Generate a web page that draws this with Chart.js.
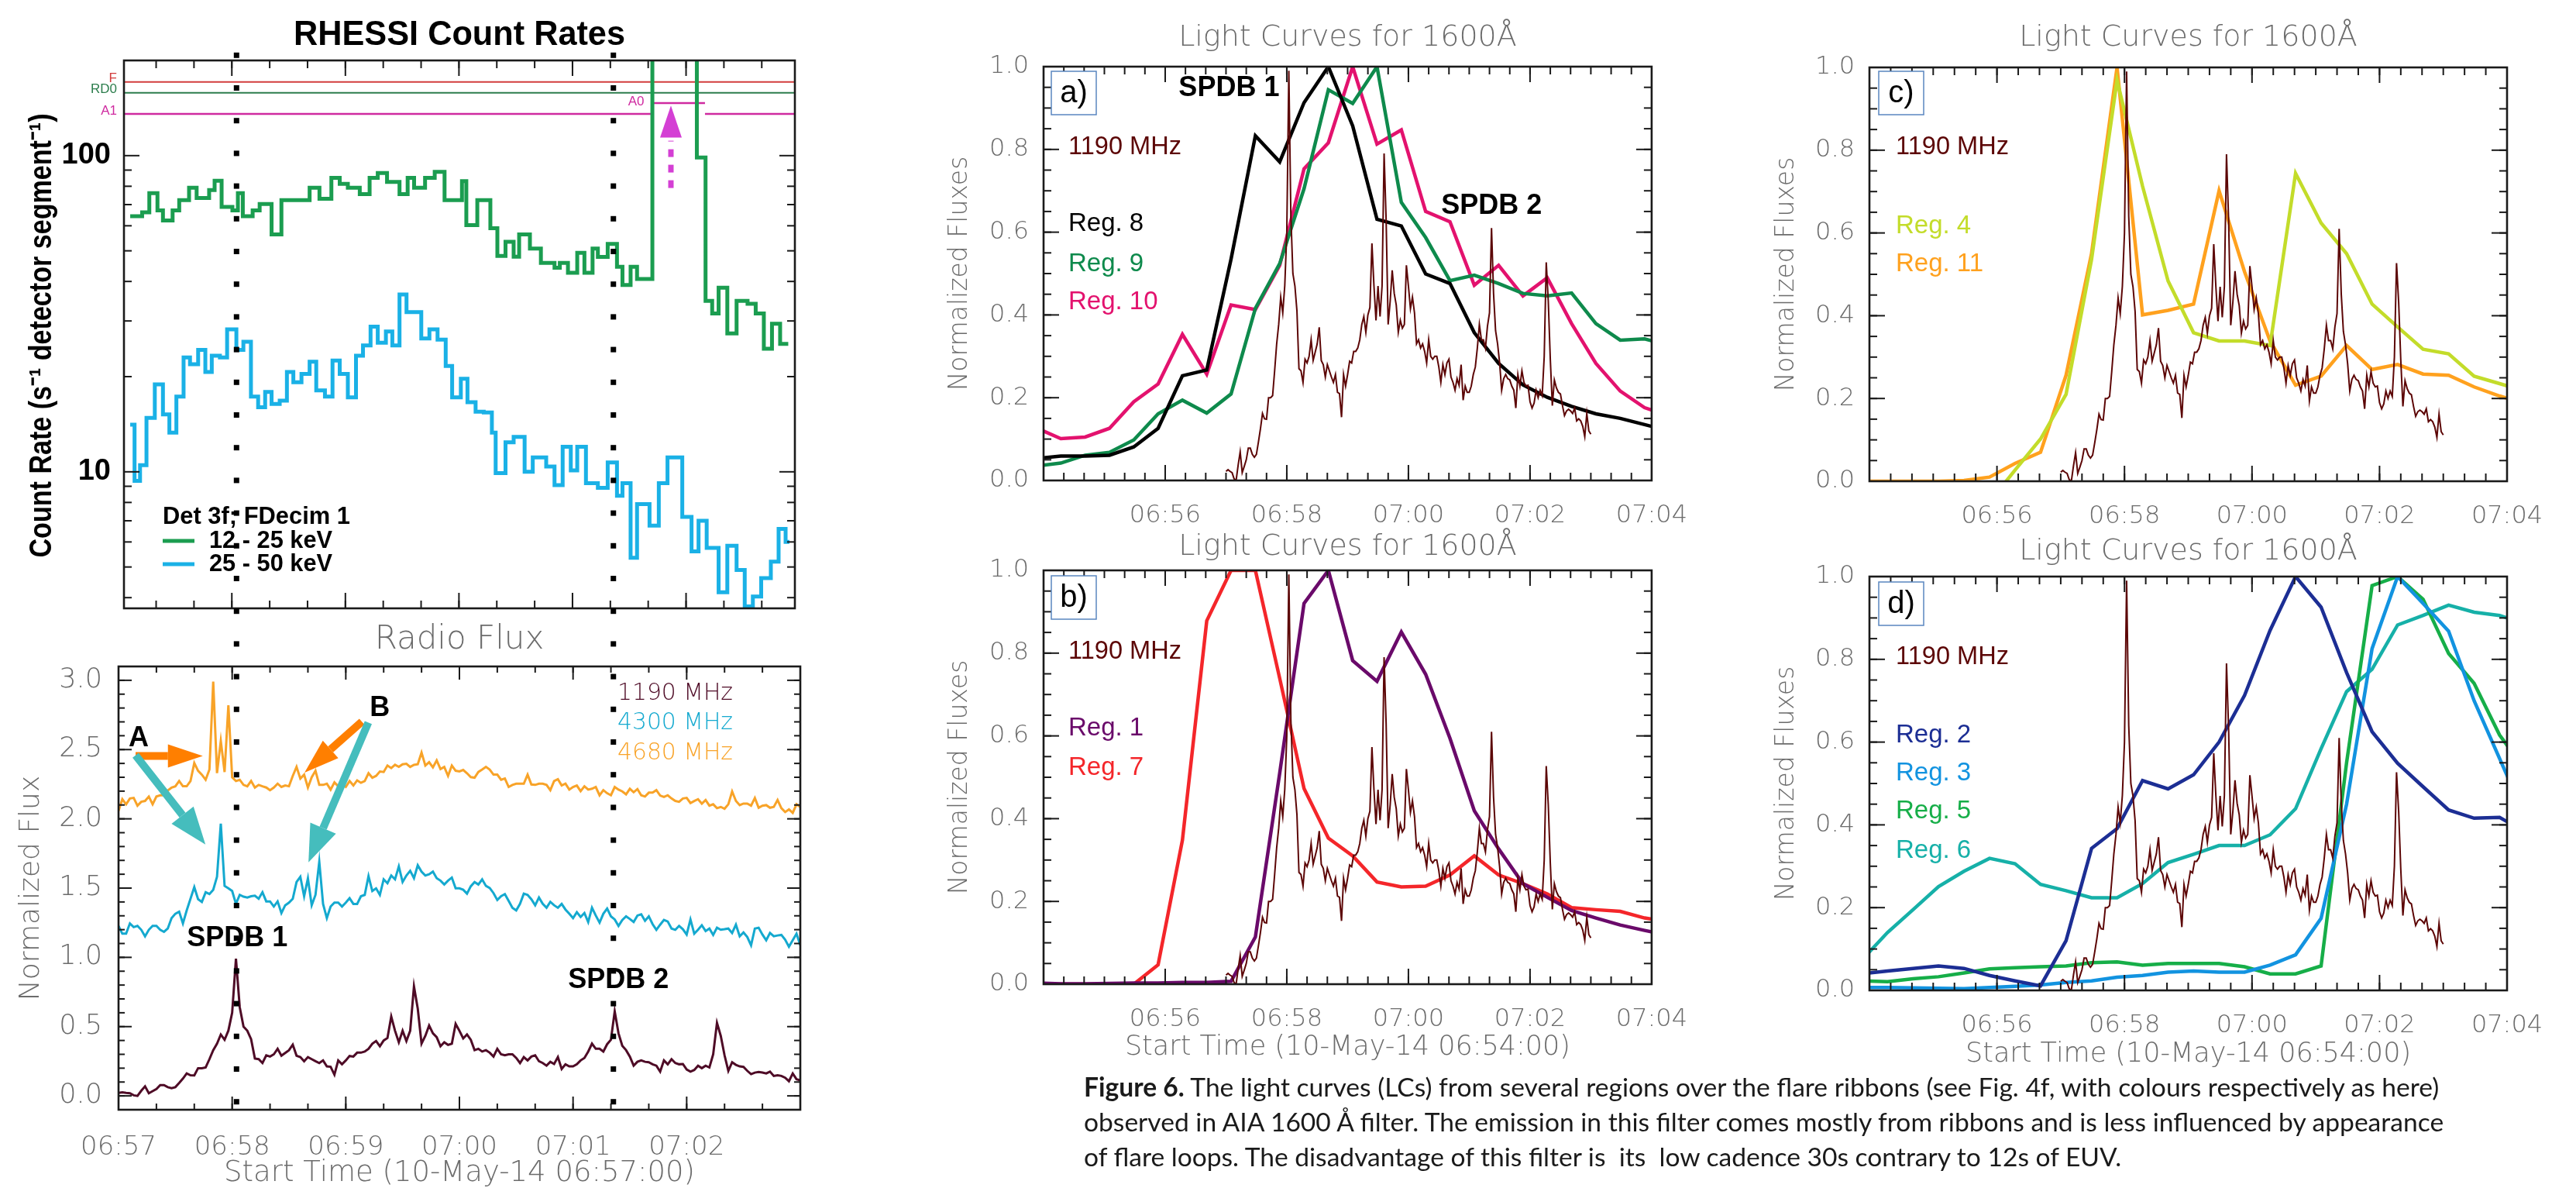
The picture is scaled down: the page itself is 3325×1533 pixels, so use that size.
<!DOCTYPE html>
<html>
<head>
<meta charset="utf-8">
<title>Flare light curves</title>
<script src="https://cdn.jsdelivr.net/npm/chart.js@4.4.1/dist/chart.umd.min.js"></script>
<style>
  html, body { margin: 0; padding: 0; background: #fff; }
  body { width: 3325px; height: 1533px; position: relative; overflow: hidden; }
  canvas { position: absolute; }
  #caption { position: absolute; left: 1399px; top: 1380px; font-family: Lato, sans-serif; font-size: 33.6px;
             line-height: 45px; color: #1a1a1a; white-space: nowrap; }
</style>
</head>
<body>
<canvas id="rhessi" style="left:0;top:0" width="1100" height="1533"></canvas>
<canvas id="radio" style="left:0;top:0" width="1100" height="1533"></canvas>
<canvas id="lcA" style="left:1190px;top:0" width="1010" height="690"></canvas>
<canvas id="lcC" style="left:2256px;top:0" width="1069" height="690"></canvas>
<canvas id="lcB" style="left:1190px;top:665px" width="1010" height="868"></canvas>
<canvas id="lcD" style="left:2256px;top:665px" width="1069" height="868"></canvas>
<div id="caption"><b>Figure 6.</b> The light curves (LCs) from several regions over the flare ribbons (see Fig. 4f, with colours respectively as here)<br>observed in AIA 1600 Å filter. The emission in this filter comes mostly from ribbons and is less influenced by appearance<br>of flare loops. The disadvantage of this filter is&nbsp; its&nbsp; low cadence 30s contrary to 12s of EUV.</div>
<script>
// ---------- RHESSI count rates (bin start, seconds after 06:57:00) ----------
const rhessiLoT = [6.3, 12.6, 16.4, 20.7, 23.6, 28.7, 32.2, 37.4, 41.4, 48.0, 50.9, 54.6, 60.3, 63.2, 65.8, 71.0, 74.7,
  81.0, 86.2, 101.1, 106.3, 112.6, 117.0, 121.3, 127.6, 132.8, 137.1, 142.0, 148.6, 152.9, 156.3, 162.1, 167.2, 172.4,
  181.6, 183.9, 189.7, 196.6, 200.3, 204.6, 208.9, 211.8, 217.5, 223.3, 230.5, 233.3, 237.6, 242.5, 246.3, 250.6, 253.4,
  258.6, 263.5, 266.4, 270.7, 274.1, 282.2, 305.7, 310.3, 313.8, 317.2, 321.8, 326.7, 332.5, 336.8, 341.1, 345.4, 349.7];
const rhessiLo = [64.3, 66.2, 76.1, 67.1, 62.4, 67.1, 72.3, 79.1, 73.4, 77.8, 83.3, 68.8, 67.1, 76.1, 64.3, 67.1, 70.3,
  56.3, 72.3, 79.1, 73.0, 85.1, 81.4, 79.1, 75.6, 85.1, 88.1, 82.6, 75.6, 85.1, 79.1, 85.1, 88.9, 72.3,
  83.0, 60.3, 72.3, 58.9, 48.2, 53.4, 47.9, 56.3, 50.8, 45.8, 44.2, 45.8, 42.6, 49.3, 42.6, 50.8, 47.8,
  52.6, 44.5, 39.0, 44.5, 40.7, 1000, 98.6, 34.7, 31.7, 38.2, 27.4, 34.7, 34.0, 31.7, 24.5, 29.4, 25.4];
const rhessiLoEnd = 354.0;
const rhessiHiT = [6.3, 8.6, 11.5, 14.9, 19.3, 23.6, 27.0, 30.7, 34.5, 37.9, 42.2, 46.0, 49.4, 53.7, 57.5, 62.4, 66.1,
  70.1, 73.9, 77.6, 81.0, 85.3, 89.1, 92.5, 96.8, 101.1, 104.6, 109.2, 113.2, 117.0, 121.3, 125.6, 129.3, 133.3, 137.1,
  141.4, 144.8, 148.6, 152.3, 160.1, 164.4, 168.7, 173.0, 176.4, 181.0, 184.5, 188.8, 193.1, 197.4, 199.4, 204.6, 208.9,
  214.7, 219.0, 226.1, 230.5, 234.8, 239.1, 242.5, 247.1, 253.4, 258.6, 263.5, 266.4, 270.7, 274.1, 280.7, 285.6, 290.2,
  298.0, 302.9, 306.6, 310.9, 317.2, 321.8, 326.7, 331.0, 335.3, 339.7, 344.8, 348.9, 352.6];
const rhessiHi = [14.1, 9.36, 10.5, 14.8, 18.9, 15.2, 13.3, 17.3, 23.0, 21.9, 24.3, 20.7, 23.3, 23.0, 28.2, 24.3, 25.8,
  17.3, 16.0, 17.9, 16.4, 16.8, 20.7, 19.2, 20.4, 22.3, 18.1, 17.3, 22.5, 20.4, 17.2, 23.3, 25.1, 28.8, 25.6,
  27.8, 25.1, 36.4, 32.0, 26.4, 28.2, 26.2, 21.6, 17.2, 19.7, 16.6, 15.5, 15.4, 13.3, 9.9, 12.4, 12.9,
  10.0, 11.1, 10.4, 9.08, 12.0, 10.1, 12.0, 9.2, 8.9, 10.7, 8.4, 9.2, 5.35, 7.9, 6.76, 9.2, 11.1,
  7.2, 5.6, 7.0, 5.75, 4.16, 5.84, 4.89, 3.75, 4.03, 4.61, 5.2, 6.6, 6.0];
const rhessiHiEnd = 354.6;
const attNames = ['F', 'RD0', 'A1'];
const attRates = [171, 158, 135.5];
const attColors = ['#d23c3c', '#2c7d4c', '#cf2aa0'];
const attGap = [282, 310];      // A0 interval, seconds after 06:57
const attA0Rate = 146.6;
const arrowRates = [79, 114, 144]; // dashed shaft start, head base, head tip
const arrowTime = 292;

// ---------- radio fluxes, 2 s cadence from 06:57:00 ----------
const radioStep = 2;
const radio1190 = [
  0.022, 0.026, 0.022, 0.019, 0.004, 0.000, 0.037, 0.069, 0.019, 0.034,
  0.050, 0.078, 0.078, 0.063, 0.056, 0.063, 0.093, 0.125, 0.162, 0.149,
  0.148, 0.200, 0.200, 0.205, 0.265, 0.330, 0.377, 0.443, 0.405, 0.471,
  0.600, 0.990, 0.640, 0.500, 0.470, 0.410, 0.270, 0.265, 0.237, 0.293,
  0.284, 0.300, 0.340, 0.290, 0.310, 0.330, 0.370, 0.290, 0.280, 0.250,
  0.280, 0.265, 0.250, 0.237, 0.256, 0.213, 0.210, 0.153, 0.256, 0.228,
  0.256, 0.288, 0.284, 0.312, 0.312, 0.320, 0.340, 0.377, 0.396, 0.358,
  0.400, 0.418, 0.573, 0.470, 0.387, 0.470, 0.396, 0.470, 0.790, 0.630,
  0.377, 0.433, 0.508, 0.452, 0.424, 0.358, 0.387, 0.368, 0.377, 0.520,
  0.470, 0.415, 0.443, 0.405, 0.330, 0.340, 0.320, 0.330, 0.312, 0.284,
  0.340, 0.300, 0.293, 0.300, 0.300, 0.274, 0.237, 0.280, 0.256, 0.284,
  0.293, 0.250, 0.237, 0.218, 0.246, 0.230, 0.280, 0.194, 0.228, 0.213,
  0.213, 0.228, 0.256, 0.274, 0.320, 0.377, 0.340, 0.340, 0.320, 0.373,
  0.405, 0.610, 0.452, 0.362, 0.330, 0.284, 0.218, 0.246, 0.256, 0.246,
  0.243, 0.228, 0.218, 0.175, 0.256, 0.228, 0.265, 0.237, 0.228, 0.230,
  0.190, 0.175, 0.187, 0.218, 0.200, 0.218, 0.205, 0.300, 0.527, 0.433,
  0.293, 0.181, 0.243, 0.224, 0.213, 0.209, 0.181, 0.157, 0.168, 0.172,
  0.168, 0.162, 0.175, 0.144, 0.149, 0.144, 0.131, 0.106, 0.162, 0.120, 0.112];
const radio4300 = [
  1.227, 1.171, 1.171, 1.245, 1.218, 1.227, 1.199, 1.152, 1.199, 1.227,
  1.227, 1.199, 1.184, 1.208, 1.283, 1.315, 1.330, 1.245, 1.339, 1.423,
  1.507, 1.420, 1.400, 1.470, 1.457, 1.488, 1.582, 1.965, 1.516, 1.498,
  1.479, 1.386, 1.451, 1.438, 1.432, 1.441, 1.445, 1.423, 1.470, 1.404,
  1.404, 1.367, 1.404, 1.320, 1.376, 1.395, 1.423, 1.544, 1.582, 1.441,
  1.570, 1.376, 1.451, 1.690, 1.386, 1.283, 1.367, 1.395, 1.395, 1.367,
  1.395, 1.427, 1.386, 1.386, 1.441, 1.451, 1.587, 1.479, 1.498, 1.451,
  1.563, 1.535, 1.591, 1.563, 1.656, 1.544, 1.591, 1.625, 1.572, 1.665,
  1.619, 1.591, 1.600, 1.619, 1.572, 1.554, 1.526, 1.554, 1.576, 1.498,
  1.498, 1.488, 1.460, 1.513, 1.544, 1.526, 1.563, 1.516, 1.501, 1.464,
  1.414, 1.442, 1.457, 1.408, 1.358, 1.339, 1.386, 1.460, 1.451, 1.419,
  1.376, 1.432, 1.386, 1.358, 1.401, 1.376, 1.358, 1.386, 1.345, 1.315,
  1.283, 1.326, 1.292, 1.320, 1.255, 1.358, 1.302, 1.251, 1.315, 1.352,
  1.296, 1.274, 1.227, 1.270, 1.296, 1.277, 1.255, 1.302, 1.311, 1.264,
  1.296, 1.240, 1.199, 1.236, 1.270, 1.259, 1.208, 1.199, 1.227, 1.203,
  1.165, 1.274, 1.171, 1.199, 1.232, 1.190, 1.208, 1.162, 1.214, 1.199,
  1.203, 1.208, 1.176, 1.236, 1.152, 1.180, 1.147, 1.087, 1.208, 1.214,
  1.165, 1.124, 1.176, 1.152, 1.158, 1.162, 1.128, 1.077, 1.124, 1.171, 1.087];
const radio4680 = [
  2.058, 2.142, 2.105, 2.147, 2.151, 2.095, 2.123, 2.129, 2.161, 2.105,
  2.161, 2.170, 2.170, 2.204, 2.226, 2.235, 2.273, 2.235, 2.235, 2.273,
  2.403, 2.347, 2.319, 2.282, 2.356, 2.990, 2.330, 2.562, 2.338, 2.820,
  2.300, 2.273, 2.282, 2.245, 2.235, 2.273, 2.226, 2.245, 2.235, 2.226,
  2.207, 2.226, 2.254, 2.230, 2.241, 2.235, 2.310, 2.375, 2.291, 2.319,
  2.226, 2.300, 2.347, 2.245, 2.245, 2.254, 2.211, 2.263, 2.235, 2.248,
  2.230, 2.273, 2.241, 2.278, 2.260, 2.273, 2.329, 2.297, 2.310, 2.342,
  2.338, 2.385, 2.366, 2.390, 2.375, 2.394, 2.398, 2.375, 2.390, 2.394,
  2.478, 2.385, 2.409, 2.372, 2.422, 2.360, 2.375, 2.310, 2.385, 2.347,
  2.342, 2.353, 2.329, 2.301, 2.297, 2.338, 2.356, 2.375, 2.356, 2.319,
  2.319, 2.282, 2.291, 2.230, 2.245, 2.254, 2.254, 2.254, 2.319, 2.248,
  2.245, 2.254, 2.254, 2.245, 2.207, 2.273, 2.286, 2.241, 2.254, 2.211,
  2.230, 2.241, 2.200, 2.235, 2.211, 2.217, 2.230, 2.170, 2.207, 2.185,
  2.170, 2.230, 2.211, 2.198, 2.177, 2.217, 2.192, 2.215, 2.170, 2.161,
  2.189, 2.189, 2.207, 2.168, 2.158, 2.170, 2.147, 2.129, 2.123, 2.147,
  2.151, 2.114, 2.129, 2.142, 2.110, 2.136, 2.095, 2.105, 2.077, 2.086,
  2.073, 2.105, 2.198, 2.129, 2.099, 2.110, 2.110, 2.095, 2.151, 2.080,
  2.095, 2.099, 2.080, 2.086, 2.136, 2.077, 2.049, 2.068, 2.043, 2.105, 2.086];
const radioNames = ['1190 MHz', '4300 MHz', '4680 MHz'];
const radioTickVals = [0, 60, 120, 180, 240, 300];
const radioTicks = ['06:57', '06:58', '06:59', '07:00', '07:01', '07:02'];
const spdbTimes = [62.3, 261.3];   // dotted markers, seconds after 06:57

// ---------- AIA 1600 light curves (seconds after 06:54:00) ----------
const lcT = [-7, 17, 41, 65, 89, 113, 137, 161, 185, 209, 233, 257, 281, 305, 329, 353, 377, 401, 425, 449, 473, 497, 521, 545, 569, 593, 617];
const reg1 = [0.003, 0.001, 0.001, 0.002, 0.003, 0.003, 0.004, 0.004, 0.007, 0.114, 0.510, 0.920, 1.000, 0.782, 0.732, 0.851, 0.749, 0.594, 0.419, 0.327, 0.243, 0.210, 0.178, 0.160, 0.143, 0.130, 0.118];
const reg2 = [0.040, 0.047, 0.053, 0.059, 0.053, 0.036, 0.023, 0.011, 0.120, 0.343, 0.391, 0.507, 0.487, 0.521, 0.600, 0.713, 0.870, 1.000, 0.926, 0.768, 0.625, 0.549, 0.492, 0.436, 0.416, 0.418, 0.383];
const reg3 = [0.007, 0.007, 0.006, 0.005, 0.004, 0.007, 0.010, 0.013, 0.019, 0.023, 0.032, 0.036, 0.044, 0.047, 0.044, 0.044, 0.061, 0.086, 0.174, 0.450, 0.826, 1.000, 0.935, 0.868, 0.700, 0.560, 0.420];
const reg4 = [-0.06, -0.06, -0.06, -0.06, -0.06, -0.05, 0.027, 0.102, 0.210, 0.536, 0.969, 0.713, 0.484, 0.359, 0.339, 0.339, 0.328, 0.744, 0.624, 0.550, 0.428, 0.373, 0.319, 0.308, 0.254, 0.236, 0.217];
const reg5 = [0.023, 0.021, 0.028, 0.033, 0.042, 0.052, 0.055, 0.057, 0.059, 0.067, 0.069, 0.061, 0.065, 0.065, 0.065, 0.057, 0.040, 0.040, 0.059, 0.550, 0.978, 1.000, 0.945, 0.814, 0.742, 0.617, 0.533];
const reg6 = [0.074, 0.140, 0.195, 0.251, 0.288, 0.319, 0.306, 0.256, 0.241, 0.224, 0.224, 0.258, 0.309, 0.329, 0.350, 0.350, 0.376, 0.439, 0.584, 0.722, 0.776, 0.883, 0.906, 0.931, 0.914, 0.906, 0.885];
const reg7 = [0.000, 0.000, 0.000, 0.000, 0.000, 0.047, 0.348, 0.878, 1.000, 1.000, 0.739, 0.473, 0.353, 0.310, 0.247, 0.235, 0.237, 0.264, 0.310, 0.264, 0.243, 0.218, 0.185, 0.180, 0.176, 0.160, 0.151];
const reg8 = [0.053, 0.059, 0.059, 0.061, 0.081, 0.126, 0.253, 0.267, 0.535, 0.833, 0.770, 0.913, 1.000, 0.857, 0.631, 0.615, 0.499, 0.476, 0.357, 0.283, 0.231, 0.201, 0.179, 0.161, 0.150, 0.135, 0.120];
const reg9 = [0.035, 0.042, 0.061, 0.068, 0.098, 0.161, 0.194, 0.163, 0.209, 0.416, 0.524, 0.705, 0.944, 0.911, 1.000, 0.672, 0.587, 0.483, 0.496, 0.476, 0.452, 0.446, 0.453, 0.379, 0.339, 0.342, 0.327];
const reg10 = [0.127, 0.101, 0.105, 0.126, 0.190, 0.233, 0.353, 0.257, 0.424, 0.413, 0.520, 0.753, 0.816, 1.000, 0.813, 0.847, 0.650, 0.625, 0.472, 0.520, 0.446, 0.490, 0.379, 0.283, 0.216, 0.176, 0.157];
const reg11 = [0.000, 0.000, 0.000, 0.000, 0.002, 0.010, 0.043, 0.070, 0.256, 0.550, 1.000, 0.402, 0.413, 0.428, 0.702, 0.506, 0.339, 0.232, 0.254, 0.328, 0.270, 0.282, 0.259, 0.256, 0.228, 0.206, 0.187];
const lcRadioStart = 180;          // 06:57:00 on the 06:54:00 axis
const lcTickVals = [120, 240, 360, 480, 600];
const lcTicks = ['06:56', '06:58', '07:00', '07:02', '07:04'];

// ---------- styling ----------
const idlFont = '"DejaVu Sans", sans-serif';
const idlGray = '#6c6c6c';
const narrow = '"Liberation Sans Narrow", "Liberation Sans", Arial, sans-serif';
const bold = '"Liberation Sans", Arial, sans-serif';
const c1190 = '#4e0b26', c4300 = '#14a9cf', c4680 = '#f8a328';
const c1190lc = '#5c0606';

Chart.defaults.animation = false;

function steps(from, to, step) {
  const out = [];
  for (let v = from; v <= to + 1e-9; v += step) out.push(Math.round(v * 1000) / 1000);
  return out;
}

function line(xs, ys, color, width, extra) {
  return Object.assign({
    data: xs.map((x, i) => ({ x: x, y: ys[i] })),
    borderColor: color, borderWidth: width, pointRadius: 0, fill: false, tension: 0
  }, extra || {});
}

function stepLine(ts, vs, end, color, width) {
  const pts = ts.map((t, i) => ({ x: t, y: vs[i] }));
  pts.push({ x: end, y: vs[vs.length - 1] });
  return { data: pts, borderColor: color, borderWidth: width, pointRadius: 0, fill: false, stepped: 'before' };
}

function txt(ctx, s, x, y, font, color, align, maxW, rot) {
  ctx.save();
  ctx.font = font; ctx.fillStyle = color; ctx.textAlign = align || 'center'; ctx.textBaseline = 'middle';
  ctx.translate(x, y);
  if (rot) ctx.rotate(rot);
  if (maxW) ctx.fillText(s, 0, 0, maxW); else ctx.fillText(s, 0, 0);
  ctx.restore();
}

function arrow(ctx, x1, y1, x2, y2, color, w, hl, hw) {
  const a = Math.atan2(y2 - y1, x2 - x1);
  const bx = x2 - hl * Math.cos(a), by = y2 - hl * Math.sin(a);
  ctx.save();
  ctx.strokeStyle = color; ctx.fillStyle = color; ctx.lineWidth = w;
  ctx.beginPath(); ctx.moveTo(x1, y1); ctx.lineTo(bx, by); ctx.stroke();
  ctx.beginPath(); ctx.moveTo(x2, y2);
  ctx.lineTo(bx + hw / 2 * Math.sin(a), by - hw / 2 * Math.cos(a));
  ctx.lineTo(bx - hw / 2 * Math.sin(a), by + hw / 2 * Math.cos(a));
  ctx.closePath(); ctx.fill();
  ctx.restore();
}

// IDL style box: frame plus inward ticks on all four sides
function idlFrame(t) {
  return {
    id: 'idlFrame',
    afterDraw(chart) {
      const { ctx, chartArea: a } = chart;
      const sx = chart.scales.x, sy = chart.scales.y;
      ctx.save();
      ctx.strokeStyle = '#1a1a1a'; ctx.lineWidth = 2;
      const seg = (x1, y1, x2, y2) => { ctx.beginPath(); ctx.moveTo(x1, y1); ctx.lineTo(x2, y2); ctx.stroke(); };
      const xt = (vals, len) => vals.forEach(v => {
        const p = sx.getPixelForValue(v);
        if (p < a.left + 2 || p > a.right - 2) return;
        seg(p, a.bottom, p, a.bottom - len); seg(p, a.top, p, a.top + len);
      });
      const yt = (vals, len) => vals.forEach(v => {
        const p = sy.getPixelForValue(v);
        if (p < a.top + 2 || p > a.bottom - 2) return;
        seg(a.left, p, a.left + len, p); seg(a.right, p, a.right - len, p);
      });
      xt(t.xMinor, t.minLen); xt(t.xMajor, t.majLen);
      yt(t.yMinor, t.minLen); yt(t.yMajor, t.majLen);
      ctx.lineWidth = 2.6;
      ctx.strokeRect(a.left, a.top, a.right - a.left, a.bottom - a.top);
      ctx.restore();
    }
  };
}

function overlay(draw) {
  return { id: 'overlay', afterDraw(chart) { draw(chart, chart.ctx, chart.chartArea); } };
}

const baseOpts = {
  responsive: false, animation: false, devicePixelRatio: 1,
  plugins: { legend: { display: false }, tooltip: { enabled: false } }
};

// ---------- RHESSI panel ----------
new Chart(document.getElementById('rhessi'), {
  type: 'line',
  data: {
    datasets: [
      stepLine(rhessiLoT, rhessiLo, rhessiLoEnd, '#1b9d50', 5),
      stepLine(rhessiHiT, rhessiHi, rhessiHiEnd, '#1ab1e6', 5),
      line([3, 357.5], [attRates[0], attRates[0]], attColors[0], 2),
      line([3, 357.5], [attRates[1], attRates[1]], attColors[1], 2),
      line([3, attGap[0], (attGap[0] + attGap[1]) / 2, attGap[1], 357.5],
           [attRates[2], attRates[2], null, attRates[2], attRates[2]], attColors[2], 2.5, { spanGaps: false }),
      line(attGap, [attA0Rate, attA0Rate], attColors[2], 2.5)
    ]
  },
  options: Object.assign({}, baseOpts, {
    layout: { padding: { left: 0, top: 78, right: 74, bottom: 748 } },
    scales: {
      x: { type: 'linear', min: 3, max: 357.5, display: false },
      y: {
        type: 'logarithmic', min: 3.7, max: 200,
        grid: { display: false }, border: { display: false },
        afterFit: s => { s.width = 160; },
        afterBuildTicks: s => { s.ticks = [{ value: 10 }, { value: 100 }]; },
        ticks: { callback: v => String(v), padding: 9, color: '#000', font: { family: narrow, size: 38, weight: 'bold' } }
      }
    }
  }),
  plugins: [
    idlFrame({ xMajor: [60, 120, 180, 240, 300], xMinor: steps(20, 340, 20),
               yMajor: [10, 100], yMinor: [4, 5, 6, 7, 8, 9, 20, 30, 40, 50, 60, 70, 80, 90, 200],
               majLen: 20, minLen: 10 }),
    overlay((chart, ctx, a) => {
      const sx = chart.scales.x, sy = chart.scales.y;
      const mid = (a.left + a.right) / 2;
      txt(ctx, 'RHESSI Count Rates', mid, a.top - 32, 'bold 44px ' + bold, '#000', 'center', 428);
      txt(ctx, 'Count Rate (s\u207B\u00B9 detector segment\u207B\u00B9)', 55, 433, 'bold 40px ' + bold, '#000', 'center', 573, -Math.PI / 2);
      attNames.forEach((n, i) => txt(ctx, n, a.left - 9, sy.getPixelForValue(attRates[i]) - 4, '17px ' + narrow, attColors[i], 'right'));
      txt(ctx, 'A0', sx.getPixelForValue(attGap[0]) - 10, sy.getPixelForValue(attA0Rate) - 2, '17px ' + narrow, attColors[2], 'right');
      // attenuator arrow
      const ax = sx.getPixelForValue(arrowTime);
      ctx.save();
      ctx.strokeStyle = '#d43fd4'; ctx.fillStyle = '#d43fd4'; ctx.lineWidth = 7; ctx.setLineDash([10, 10]);
      ctx.beginPath(); ctx.moveTo(ax, sy.getPixelForValue(arrowRates[0])); ctx.lineTo(ax, sy.getPixelForValue(arrowRates[1]) + 4); ctx.stroke();
      ctx.setLineDash([]);
      const hb = sy.getPixelForValue(arrowRates[1]), ht = sy.getPixelForValue(arrowRates[2]);
      ctx.beginPath(); ctx.moveTo(ax, ht); ctx.lineTo(ax - 14, hb); ctx.lineTo(ax + 14, hb); ctx.closePath(); ctx.fill();
      ctx.restore();
      // legend
      txt(ctx, 'Det 3f; FDecim 1', a.left + 50, a.top + 589, 'bold 32px ' + narrow, '#000', 'left', 242);
      [['12 - 25 keV', '#1b9d50', 620], ['25 - 50 keV', '#1ab1e6', 650]].forEach(r => {
        ctx.save(); ctx.strokeStyle = r[1]; ctx.lineWidth = 5;
        ctx.beginPath(); ctx.moveTo(a.left + 50, a.top + r[2]); ctx.lineTo(a.left + 91, a.top + r[2]); ctx.stroke(); ctx.restore();
        txt(ctx, r[0], a.left + 110, a.top + r[2], 'bold 32px ' + narrow, '#000', 'left', 159);
      });
    })
  ]
});

// ---------- Radio panel ----------
const radioX = radio1190.map((v, i) => i * radioStep);
new Chart(document.getElementById('radio'), {
  type: 'line',
  data: {
    datasets: [
      line(radioX, radio1190, c1190, 3),
      line(radioX, radio4300, c4300, 3),
      line(radioX, radio4680, c4680, 3)
    ]
  },
  options: Object.assign({}, baseOpts, {
    layout: { padding: { left: 0, top: 860, right: 67, bottom: 0 } },
    scales: {
      x: {
        type: 'linear', min: 0, max: 360, grid: { display: false }, border: { display: false },
        afterFit: s => { s.height = 101; },
        afterBuildTicks: s => { s.ticks = radioTickVals.map(v => ({ value: v })); },
        ticks: { callback: v => radioTicks[radioTickVals.indexOf(v)], padding: 24, maxRotation: 0, autoSkip: false,
                 color: idlGray, font: { family: idlFont, size: 34, weight: '200', lineHeight: 1 } },
        title: { display: true, text: 'Start Time (10-May-14 06:57:00)', color: idlGray, padding: { top: 0, bottom: 0 },
                 font: { family: idlFont, size: 37, weight: '200', lineHeight: 1 } }
      },
      y: {
        min: -0.1, max: 3.1, grid: { display: false }, border: { display: false },
        afterFit: s => { s.width = 153; },
        afterBuildTicks: s => { s.ticks = steps(0, 3, 0.5).map(v => ({ value: v })); },
        ticks: { callback: v => v.toFixed(1), padding: 13, color: idlGray, font: { family: idlFont, size: 35, weight: '200' } },
        title: { display: true, text: 'Normalized Flux', color: idlGray, padding: { top: 23, bottom: 0 },
                 font: { family: idlFont, size: 36, weight: '200', lineHeight: 1 } }
      }
    }
  }),
  plugins: [
    idlFrame({ xMajor: radioTickVals, xMinor: steps(20, 340, 20), yMajor: steps(0, 3, 0.5), yMinor: steps(0, 3, 0.1),
               majLen: 17, minLen: 8 }),
    overlay((chart, ctx, a) => {
      const sx = chart.scales.x, sy = chart.scales.y;
      const P = (t, v) => [sx.getPixelForValue(t), sy.getPixelForValue(v)];
      txt(ctx, 'Radio Flux', (a.left + a.right) / 2, a.top - 34, '200 42px ' + idlFont, idlGray, 'center', 231);
      [[radioNames[0], c1190, 35], [radioNames[1], c4300, 73], [radioNames[2], c4680, 112]].forEach(r =>
        txt(ctx, r[0], a.left + 644, a.top + r[2], '200 31px ' + idlFont, r[1], 'left', 149));
      const org = '#ff7f00', teal = '#45bdbd';
      let p = P(9, 2.454), q = P(44.5, 2.454); arrow(ctx, p[0], p[1], q[0], q[1], org, 10, 45, 30);
      p = P(9, 2.459); q = P(45.9, 1.815); arrow(ctx, p[0], p[1], q[0], q[1], teal, 10, 48, 36);
      p = P(128.5, 2.702); q = P(98.2, 2.334); arrow(ctx, p[0], p[1], q[0], q[1], org, 10, 45, 30);
      p = P(131.9, 2.695); q = P(100.3, 1.686); arrow(ctx, p[0], p[1], q[0], q[1], teal, 10, 48, 36);
      p = P(10.6, 2.58); txt(ctx, 'A', p[0], p[1], 'bold 36px ' + bold, '#000');
      p = P(138, 2.795); txt(ctx, 'B', p[0], p[1], 'bold 36px ' + bold, '#000');
      p = P(62.7, 1.137); txt(ctx, 'SPDB 1', p[0], p[1], 'bold 36px ' + bold, '#000', 'center', 134);
      p = P(264, 0.835); txt(ctx, 'SPDB 2', p[0], p[1], 'bold 36px ' + bold, '#000', 'center', 134);
      // dotted SPDB markers through both panels
      ctx.save(); ctx.fillStyle = '#000';
      spdbTimes.forEach(t => {
        const x = sx.getPixelForValue(t);
        for (let n = 0; n <= 32; n++) ctx.fillRect(x - 3.5, a.bottom - 10.3 - 42.2 * n - 3.5, 7, 7);
      });
      ctx.restore();
    })
  ]
});

// ---------- light-curve panels ----------
const lcRadioX = radio1190.map((v, i) => lcRadioStart + i * radioStep);

function lightCurve(id, pad, xTitle, regs, tag, o) {
  const datasets = [line(lcRadioX, radio1190, c1190lc, 2)].concat(regs.map(r => line(lcT, r[1], r[2], 4.5)));
  new Chart(document.getElementById(id), {
    type: 'line',
    data: { datasets: datasets },
    options: Object.assign({}, baseOpts, {
      layout: { padding: pad },
      scales: {
        x: {
          type: 'linear', min: 0, max: 600, grid: { display: false }, border: { display: false },
          afterFit: s => { s.height = xTitle ? 100 : 60; },
          afterBuildTicks: s => { s.ticks = lcTickVals.map(v => ({ value: v })); },
          ticks: { callback: v => lcTicks[lcTickVals.indexOf(v)], padding: 22, maxRotation: 0, autoSkip: false,
                   color: idlGray, font: { family: idlFont, size: 32, weight: '200', lineHeight: 1 } },
          title: { display: xTitle, text: 'Start Time (10-May-14 06:54:00)', color: idlGray, padding: { top: 0, bottom: o.xtPad },
                   font: { family: idlFont, size: 35, weight: '200', lineHeight: 1 } }
        },
        y: {
          min: 0, max: 1, grid: { display: false }, border: { display: false },
          afterFit: s => { s.width = 157; },
          afterBuildTicks: s => { s.ticks = steps(0, 1, 0.2).map(v => ({ value: v })); },
          ticks: { callback: v => v.toFixed(1), padding: 11, color: idlGray, font: { family: idlFont, size: 32, weight: '200' } },
          title: { display: true, text: 'Normalized Fluxes', color: idlGray, padding: { top: o.ytPad, bottom: 0 },
                   font: { family: idlFont, size: 33, weight: '200', lineHeight: 1 } }
        }
      }
    }),
    plugins: [
      idlFrame({ xMajor: lcTickVals, xMinor: steps(20, 580, 20), yMajor: steps(0, 1, 0.2), yMinor: steps(0, 1, 0.05),
                 majLen: 20, minLen: 10 }),
      overlay((chart, ctx, a) => {
        const sx = chart.scales.x, sy = chart.scales.y;
        txt(ctx, 'Light Curves for 1600\u00C5', (a.left + a.right) / 2, a.top - o.titleDy, '200 38px ' + idlFont, idlGray, 'center', 490);
        ctx.save(); ctx.strokeStyle = '#5a86c0'; ctx.lineWidth = 1.5;
        ctx.fillStyle = '#fff'; ctx.fillRect(a.left + o.tag[0], a.top + o.tag[1], 58, 56);
        ctx.strokeRect(a.left + o.tag[0], a.top + o.tag[1], 58, 56); ctx.restore();
        txt(ctx, tag, a.left + o.tag[0] + 29, a.top + o.tag[1] + 29, '40px ' + narrow, '#000');
        txt(ctx, '1190 MHz', a.left + o.legX, a.top + o.legY[0], '33px ' + narrow, c1190lc, 'left', 146);
        regs.forEach((r, i) => txt(ctx, r[0], a.left + o.legX, a.top + o.legY[i + 1], '33px ' + narrow, r[2], 'left'));
        (o.spdb || []).forEach(s => txt(ctx, s[0], sx.getPixelForValue(s[1]), sy.getPixelForValue(s[2]), 'bold 36px ' + bold, '#000', 'center', 134));
      })
    ]
  });
}

lightCurve('lcA', { left: 0, top: 86, right: 30, bottom: 10 }, false,
  [['Reg. 8', reg8, '#000000'], ['Reg. 9', reg9, '#0e8a4c'], ['Reg. 10', reg10, '#e3126e']], 'a)',
  { ytPad: 33, xtPad: 0, titleDy: 37, tag: [10, 6], legX: 32, legY: [104, 203, 255, 304],
    spdb: [['SPDB 1', 183, 0.948], ['SPDB 2', 442, 0.663]] });
lightCurve('lcC', { left: 0, top: 87, right: 89, bottom: 9 }, false,
  [['Reg. 4', reg4, '#c3dc2a'], ['Reg. 11', reg11, '#ffa11e']], 'c)',
  { ytPad: 34, xtPad: 0, titleDy: 38, tag: [12, 5], legX: 34, legY: [103, 205, 254] });
lightCurve('lcB', { left: 0, top: 71, right: 30, bottom: 163 }, true,
  [['Reg. 1', reg1, '#6a0a6a'], ['Reg. 7', reg7, '#f4262a']], 'b)',
  { ytPad: 33, xtPad: 1, titleDy: 30, tag: [10, 7], legX: 32, legY: [105, 204, 255] });
lightCurve('lcD', { left: 0, top: 79, right: 89, bottom: 155 }, true,
  [['Reg. 2', reg2, '#1c2e94'], ['Reg. 3', reg3, '#1293e0'], ['Reg. 5', reg5, '#16ae48'], ['Reg. 6', reg6, '#16b0a8']], 'd)',
  { ytPad: 34, xtPad: 0, titleDy: 32, tag: [12, 7], legX: 34, legY: [104, 205, 254, 303, 354] });
</script>
</body>
</html>
